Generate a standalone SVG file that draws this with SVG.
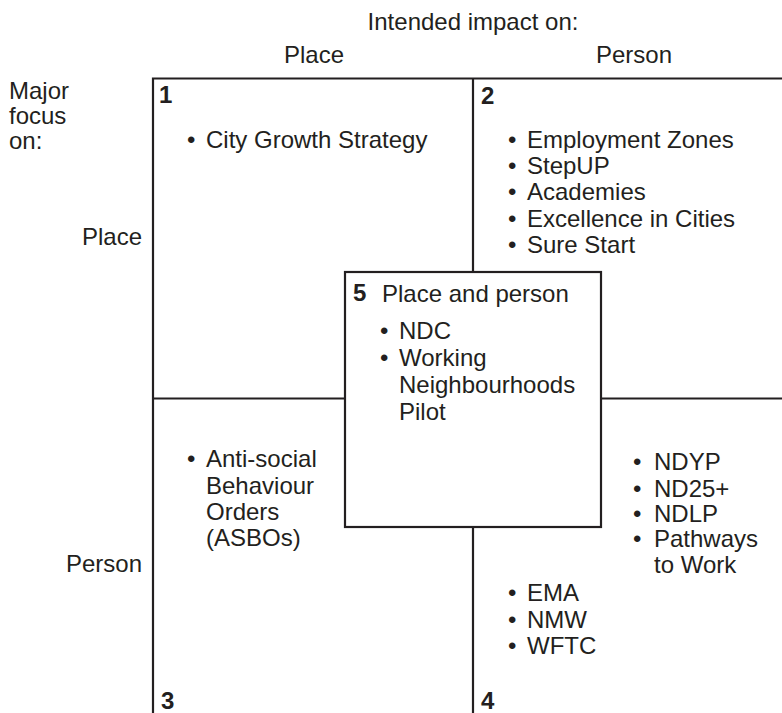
<svg xmlns="http://www.w3.org/2000/svg" width="782" height="713" viewBox="0 0 782 713">
  <style>
    text { font-family: "Liberation Sans", Arial, sans-serif; font-size: 24px; fill: #231f20; }
    .num { font-weight: bold; }
    .rule { stroke: #231f20; stroke-width: 2.2; fill: none; }
    .box { stroke: #231f20; stroke-width: 2.2; fill: #ffffff; }
    .end { text-anchor: end; }
    .mid { text-anchor: middle; }
  </style>
  <rect width="782" height="713" fill="#ffffff"/>

  <!-- axis headings -->
  <g id="axis-labels">
    <text class="mid" x="473" y="30">Intended impact on:</text>
    <text class="mid" x="314" y="63">Place</text>
    <text class="mid" x="634" y="63">Person</text>
    <text x="9" y="99">Major</text>
    <text x="9" y="124">focus</text>
    <text x="9" y="149">on:</text>
    <text class="end" x="142" y="245">Place</text>
    <text class="end" x="142" y="572">Person</text>
  </g>

  <!-- grid lines -->
  <g id="connectors">
    <path class="rule" d="M153 713 V78.5 H782"/>
    <path class="rule" d="M473 78.5 V713"/>
    <path class="rule" d="M153 398.5 H782"/>
  </g>

  <!-- quadrant 1 -->
  <g id="q1">
    <text class="num" x="159" y="103">1</text>
    <text x="187" y="148">•</text>
    <text x="206" y="148">City Growth Strategy</text>
  </g>

  <!-- quadrant 2 -->
  <g id="q2">
    <text class="num" x="481" y="104">2</text>
    <text x="508" y="148">•</text>
    <text x="527" y="148">Employment Zones</text>
    <text x="508" y="174">•</text>
    <text x="527" y="174">StepUP</text>
    <text x="508" y="200">•</text>
    <text x="527" y="200">Academies</text>
    <text x="508" y="226.5">•</text>
    <text x="527" y="226.5">Excellence in Cities</text>
    <text x="508" y="253">•</text>
    <text x="527" y="253">Sure Start</text>
  </g>

  <!-- quadrant 3 -->
  <g id="q3">
    <text x="187" y="467">•</text>
    <text x="206" y="467">Anti-social</text>
    <text x="206" y="494">Behaviour</text>
    <text x="206" y="520">Orders</text>
    <text x="206" y="546">(ASBOs)</text>
    <text class="num" x="161" y="709">3</text>
  </g>

  <!-- quadrant 4 -->
  <g id="q4">
    <text x="633" y="470">•</text>
    <text x="654" y="470">NDYP</text>
    <text x="633" y="496.5">•</text>
    <text x="654" y="496.5">ND25+</text>
    <text x="633" y="522">•</text>
    <text x="654" y="522">NDLP</text>
    <text x="633" y="547">•</text>
    <text x="654" y="547">Pathways</text>
    <text x="654" y="573">to Work</text>
    <text x="508" y="601">•</text>
    <text x="527" y="601">EMA</text>
    <text x="508" y="627.5">•</text>
    <text x="527" y="627.5">NMW</text>
    <text x="508" y="654">•</text>
    <text x="527" y="654">WFTC</text>
    <text class="num" x="481" y="709">4</text>
  </g>

  <!-- central overlap box -->
  <g id="q5">
    <rect class="box" x="345" y="272" width="256" height="255"/>
    <text class="num" x="353" y="301">5</text>
    <text x="382" y="302">Place and person</text>
    <text x="380" y="339">•</text>
    <text x="399" y="339">NDC</text>
    <text x="380" y="366">•</text>
    <text x="399" y="366">Working</text>
    <text x="399" y="393">Neighbourhoods</text>
    <text x="399" y="420">Pilot</text>
  </g>
</svg>
